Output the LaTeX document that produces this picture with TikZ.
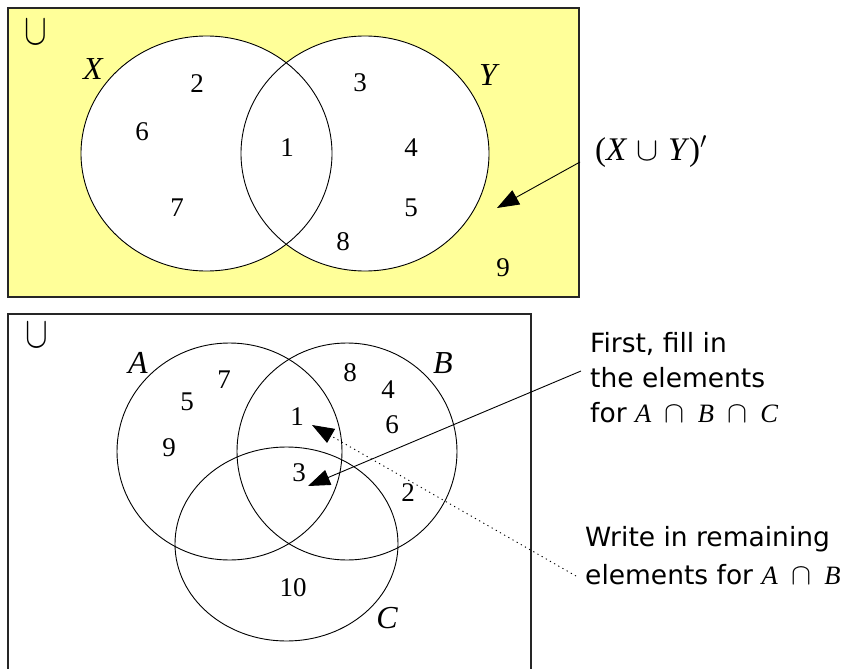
\RequirePackage{fix-cm}
\documentclass[tikz,border=0pt]{standalone}
\usepackage{fontspec}
\setmainfont{Liberation Serif}
\newfontfamily\notefont{DejaVu Sans}
\usetikzlibrary{arrows.meta}

\definecolor{vennyellow}{RGB}{255,255,153}
\newcommand{\mi}[1]{{\rmfamily\itshape #1}}
\newcommand{\notecap}{\hspace{0.5em}{\fontsize{30}{30}\selectfont$\cap$}\hspace{0.5em}}

\begin{document}
\begin{tikzpicture}[
		x=1pt, y=-1pt,
		>={Triangle[length=22pt, width=16pt]},
		num/.style={font=\fontsize{27}{27}\selectfont, inner sep=0pt},
		setname/.style={font=\fontsize{32}{32}\selectfont\itshape, inner sep=0pt},
		universe/.style={font=\fontsize{40}{40}\selectfont, inner sep=0pt},
		note/.style={font=\notefont\fontsize{26.5}{35}\selectfont, align=left, anchor=west, inner sep=0pt},
		venn/.style={draw, line width=0.9pt},
		frame/.style={draw=black!85, line width=1.6pt},
		pointer/.style={->, line width=0.9pt},
		hint/.style={->, line width=0.9pt, dash pattern=on 1.2pt off 3.6pt}
	]
	\useasboundingbox (0,0) rectangle (849,669);

	% Top diagram
	\draw[frame, fill=vennyellow] (8,8) rectangle (579,297);
	\fill[white] (206.5,153.5) ellipse [x radius=125.5, y radius=117.5];
	\fill[white] (365,153.5) ellipse [x radius=124, y radius=117.5];
	\draw[venn] (206.5,153.5) ellipse [x radius=125.5, y radius=117.5];
	\draw[venn] (365,153.5) ellipse [x radius=124, y radius=117.5];

	\node[universe] (uTop) at (36,32) {\scalebox{0.85}[1.1]{$\cup$}};
	\node[setname] (setX) at (93,69) {X};
	\node[setname] (setY) at (488,75) {Y};
	\node[num] (x2) at (197,84) {2};
	\node[num] (x6) at (142,132) {6};
	\node[num] (x7) at (177,208) {7};
	\node[num] (xy1) at (287,148) {1};
	\node[num] (y3) at (360,83) {3};
	\node[num] (y4) at (411,148) {4};
	\node[num] (y5) at (411,208) {5};
	\node[num] (y8) at (343,242) {8};
	\node[num] (out9) at (503,268) {9};

	\node[setname, anchor=base west, font=\fontsize{33}{33}\selectfont] (comp) at (595,160) {(\mi{X}\hspace{0.3em}$\cup$\hspace{0.3em}\mi{Y}\hspace{0.08em})$'$};
	\coordinate (compStart) at (580,162);
	\coordinate (compTip) at (497,208);

	% Bottom diagram
	\draw[frame] (8,669) |- (531,314) -- (531,669);
	\draw[venn] (229.5,451.5) ellipse [x radius=112.5, y radius=108.5];
	\draw[venn] (347,451.5) ellipse [x radius=110, y radius=108.5];
	\draw[venn] (286.5,544) ellipse [x radius=111.5, y radius=97];

	\node[universe] (uBot) at (37,335) {\scalebox{0.85}[1.1]{$\cup$}};
	\node[setname] (setA) at (138,363) {A};
	\node[setname] (setB) at (443,363) {B};
	\node[setname] (setC) at (387,618) {C};
	\node[num] (a7) at (224,380) {7};
	\node[num] (a5) at (187,402) {5};
	\node[num] (a9) at (169,448) {9};
	\node[num] (ab1) at (297,417) {1};
	\node[num] (b8) at (350,373) {8};
	\node[num] (b4) at (388,390) {4};
	\node[num] (b6) at (392,425) {6};
	\node[num] (abc3) at (299,473) {3};
	\node[num] (bc2) at (408,493) {2};
	\node[num] (c10) at (293,588) {10};

	\node[note] (first) at (590,378) {First, fill in\\the elements\\for \mi{A}\notecap\mi{B}\notecap\mi{C}};
	\node[note, font=\notefont\fontsize{26.5}{38}\selectfont] (remain) at (585,556) {Write in remaining\\elements for \mi{A}\notecap\mi{B}};
	\coordinate (firstStart) at (581,371);
	\coordinate (tripleTip) at (308,486);
	\coordinate (remainStart) at (576,576);
	\coordinate (pairTip) at (312,425);

	% Arrows
	\draw[pointer] (compStart) -- (compTip);
	\draw[pointer] (firstStart) -- (tripleTip);
	\draw[hint] (remainStart) -- (pairTip);

\end{tikzpicture}
\end{document}
